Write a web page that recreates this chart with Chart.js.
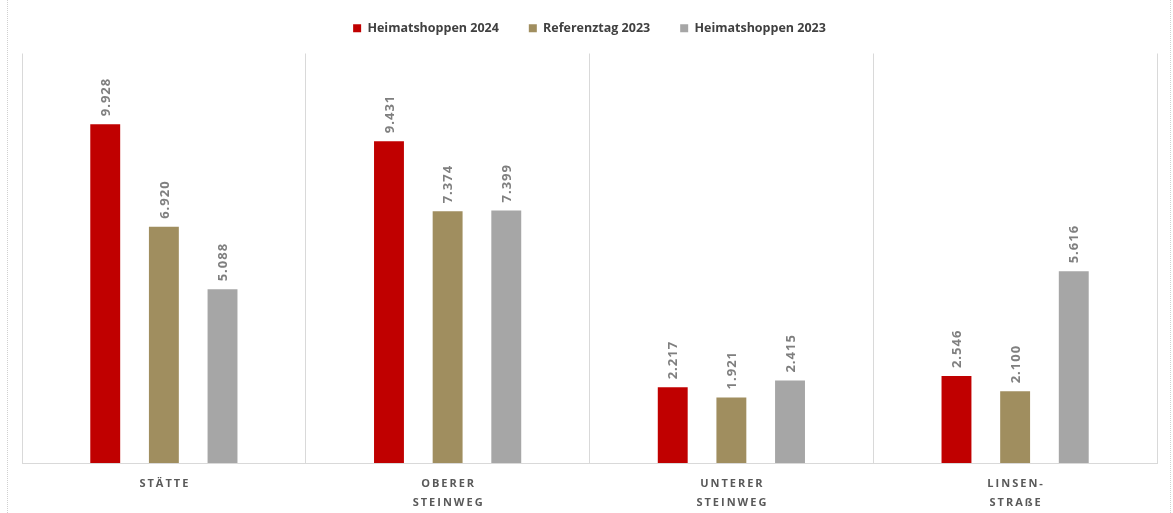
<!DOCTYPE html>
<html>
<head>
<meta charset="utf-8">
<script src="https://cdn.jsdelivr.net/npm/chart.js@4.4.1/dist/chart.umd.min.js"></script>
<style>
  html, body { margin: 0; padding: 0; background: #fff; }
  #wrap { position: relative; width: 1173px; height: 513px; }
  #edgeL, #edgeR { position: absolute; top: 0; bottom: 0; border-left: 1px dotted #d0d0d0; }
  #edgeL { left: 7px; }
  #edgeR { left: 1170px; }
</style>
</head>
<body>
<div id="wrap"><canvas id="chart" width="1173" height="513"></canvas><div id="edgeL"></div><div id="edgeR"></div></div>
<script>
// categories (multi-line labels) and series values
const categories = [['STÄTTE'], ['OBERER', 'STEINWEG'], ['UNTERER', 'STEINWEG'], ['LINSEN-', 'STRAßE']];
const heimat2024 = [9928, 9431, 2217, 2546];
const referenz2023 = [6920, 7374, 1921, 2100];
const heimat2023 = [5088, 7399, 2415, 5616];

const seriesNames = ['Heimatshoppen 2024', 'Referenztag 2023', 'Heimatshoppen 2023'];
const seriesColors = ['#c00000', '#a08e5f', '#a6a6a6'];

const fmt = v => v.toLocaleString('de-DE');

// extra room between legend and plot
const legendGap = {
    id: 'legendGap',
    beforeInit(chart) {
        const fit = chart.legend.fit;
        chart.legend.fit = function() {
            fit.call(this);
            this.height += 9;
        };
    }
};

// value labels, rotated, above each bar
const barLabels = {
    id: 'barLabels',
    afterDatasetsDraw(chart) {
        const ctx = chart.ctx;
        ctx.save();
        ctx.font = 'bold 13px "Open Sans"';
        ctx.fillStyle = '#7f7f7f';
        ctx.letterSpacing = '1px';
        chart.data.datasets.forEach((ds, di) => {
            chart.getDatasetMeta(di).data.forEach((bar, i) => {
                ctx.save();
                ctx.translate(bar.x, bar.y - 8);
                ctx.rotate(-Math.PI / 2);
                ctx.textAlign = 'left';
                ctx.textBaseline = 'middle';
                ctx.fillText(fmt(ds.data[i]), 0, 1);
                ctx.restore();
            });
        });
        ctx.restore();
    }
};

// category labels with letter spacing, placed at the x scale's tick positions
const catLabels = {
    id: 'catLabels',
    afterDraw(chart) {
        const ctx = chart.ctx;
        const xs = chart.scales.x;
        ctx.save();
        ctx.font = 'bold 11px "Open Sans"';
        ctx.fillStyle = '#595959';
        ctx.letterSpacing = '2px';
        ctx.textAlign = 'center';
        ctx.textBaseline = 'middle';
        chart.data.labels.forEach((lines, i) => {
            const x = xs.getPixelForTick(i) + 1;
            lines.forEach((t, j) => ctx.fillText(t, x, xs.bottom + 21 + j * 19));
        });
        ctx.restore();
    }
};

new Chart(document.getElementById('chart'), {
    type: 'bar',
    data: {
        labels: categories,
        datasets: [heimat2024, referenz2023, heimat2023].map((d, i) => ({
            label: seriesNames[i],
            data: d,
            backgroundColor: seriesColors[i],
            categoryPercentage: 0.62,
            barPercentage: 0.51
        }))
    },
    options: {
        responsive: false,
        animation: false,
        layout: { padding: { left: 22, right: 16, top: -8, bottom: 50 } },
        plugins: {
            legend: {
                position: 'top',
                labels: {
                    boxWidth: 8, boxHeight: 8, padding: 30,
                    color: '#404040',
                    font: { family: '"Open Sans"', size: 12.5, weight: 'bold' }
                }
            },
            tooltip: { enabled: false }
        },
        scales: {
            x: {
                grid: { display: true, offset: true, color: '#d9d9d9', drawTicks: false },
                border: { display: true, color: '#d9d9d9' },
                ticks: { display: false }
            },
            y: {
                display: false,
                min: 0,
                max: 12000
            }
        }
    },
    plugins: [legendGap, barLabels, catLabels]
});
</script>
</body>
</html>
